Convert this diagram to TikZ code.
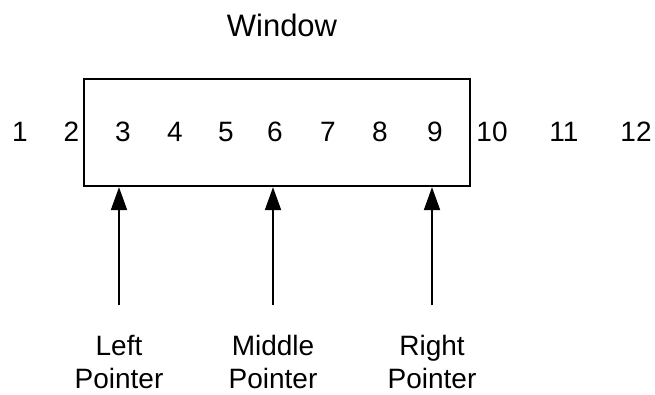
\documentclass[tikz,border=0pt]{standalone}
\usepackage{fontspec}
\setmainfont{Liberation Sans}
\usetikzlibrary{arrows.meta}
\begin{document}
\begin{tikzpicture}[x=1pt,y=-1pt,
  num/.style={font=\fontsize{28}{34}\selectfont, inner sep=0pt, anchor=base},
  lbl/.style={font=\fontsize{28}{33}\selectfont, inner sep=0pt, anchor=north, align=center},
  ptr/.style={line width=2pt, -{Triangle[length=23pt,width=16pt]}},
  winbox/.style={draw, line width=2.3pt, inner sep=0pt, minimum width=386pt, minimum height=107pt}]
\useasboundingbox (0,0) rectangle (655,395);
\node[font=\fontsize{31}{36}\selectfont, inner sep=0pt, anchor=base] (title) at (282,37) {Window};
\node[winbox] (win) at (277,132.5) {};
\node[num] (n1) at (20,142) {1};
\node[num] (n2) at (71.5,142) {2};
\node[num] (n3) at (123,142) {3};
\node[num] (n4) at (175,142) {4};
\node[num] (n5) at (226,142) {5};
\node[num] (n6) at (275,142) {6};
\node[num] (n7) at (328,142) {7};
\node[num] (n8) at (380,142) {8};
\node[num] (n9) at (435,142) {9};
\node[num] (n10) at (492,142) {10};
\node[num] (n11) at (564,142) {11};
\node[num] (n12) at (636,142) {12};
\coordinate (lp) at (119,305);
\coordinate (mp) at (273,305);
\coordinate (rp) at (432,305);
\draw[ptr] (lp) -- (lp |- win.south);
\draw[ptr] (mp) -- (mp |- win.south);
\draw[ptr] (rp) -- (rp |- win.south);
\node[lbl] (llbl) at (119,335) {Left\\Pointer};
\node[lbl] (mlbl) at (273,335) {Middle\\Pointer};
\node[lbl] (rlbl) at (432,335) {Right\\Pointer};
\end{tikzpicture}
\end{document}
